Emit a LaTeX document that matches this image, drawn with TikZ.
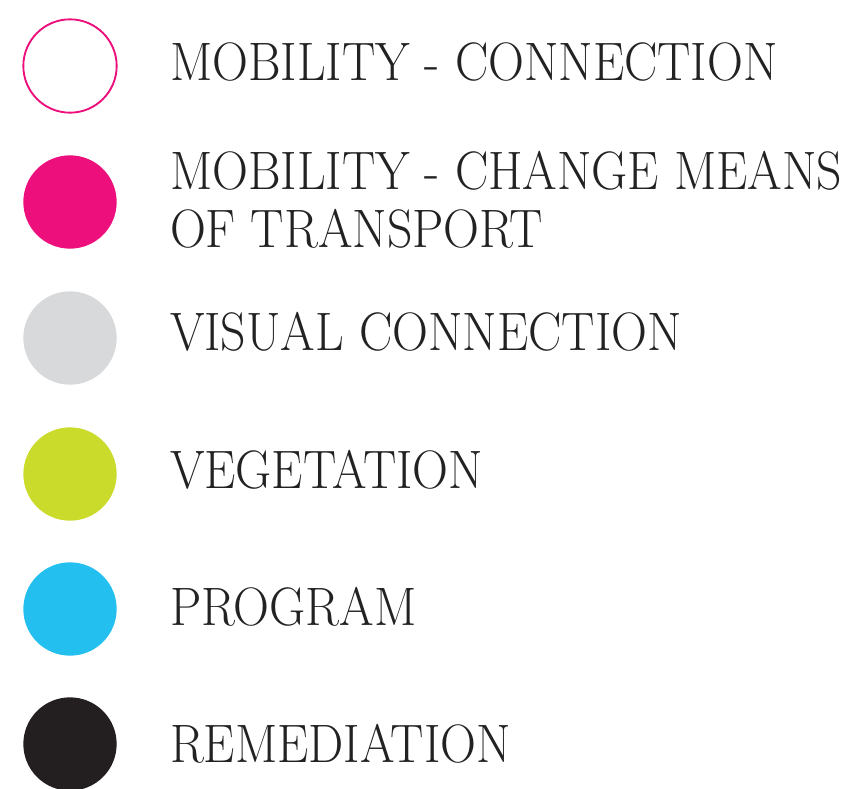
\documentclass[tikz,border=0pt]{standalone}
\usepackage{tikz}
\usepackage{graphicx}

\definecolor{mobpink}{HTML}{EC0F7C}
\definecolor{visgrey}{HTML}{D8D9DB}
\definecolor{veglime}{HTML}{CBDB2C}
\definecolor{progcyan}{HTML}{22BFEF}
\definecolor{remblack}{HTML}{231F20}
\definecolor{txtdark}{HTML}{222222}

\tikzset{
  dot/.style={circle, minimum size=70pt, inner sep=0pt, outer sep=0pt},
  keytext/.style={anchor=base west, inner sep=0pt, outer sep=0pt, align=left,
    text=txtdark, font=\fontsize{40.6}{43.5}\selectfont}
}
\newcommand{\narrow}[1]{\scalebox{0.92}[1]{#1}}

\begin{document}
\begin{tikzpicture}[x=0.75pt, y=-0.75pt]

\useasboundingbox (0,0) rectangle (861,789);

% Legend dots
\node[dot, draw=mobpink, line width=1.4pt, fill=white] (conn) at (70,66) {};
\node[dot, fill=mobpink] (change) at (70,202) {};
\node[dot, fill=visgrey] (visual) at (70,338) {};
\node[dot, fill=veglime] (veg) at (70,474) {};
\node[dot, fill=progcyan] (prog) at (70,609) {};
\node[dot, fill=remblack] (remed) at (70,744) {};

% Legend labels (two-line label sits on its last baseline)
\node[keytext] (connlbl) at (170,80) {\narrow{MOBILITY - CONNECTION}};
\node[keytext] (changelbl) at (170,247) {\narrow{MOBILITY - CHANGE MEANS}\\\narrow{OF TRANSPORT}};
\node[keytext] (visuallbl) at (170,350) {\narrow{VISUAL CONNECTION}};
\node[keytext] (veglbl) at (170,488) {\narrow{VEGETATION}};
\node[keytext] (proglbl) at (170,625) {\narrow{PROGRAM}};
\node[keytext] (remedlbl) at (170,762) {\narrow{REMEDIATION}};

\end{tikzpicture}
\end{document}
